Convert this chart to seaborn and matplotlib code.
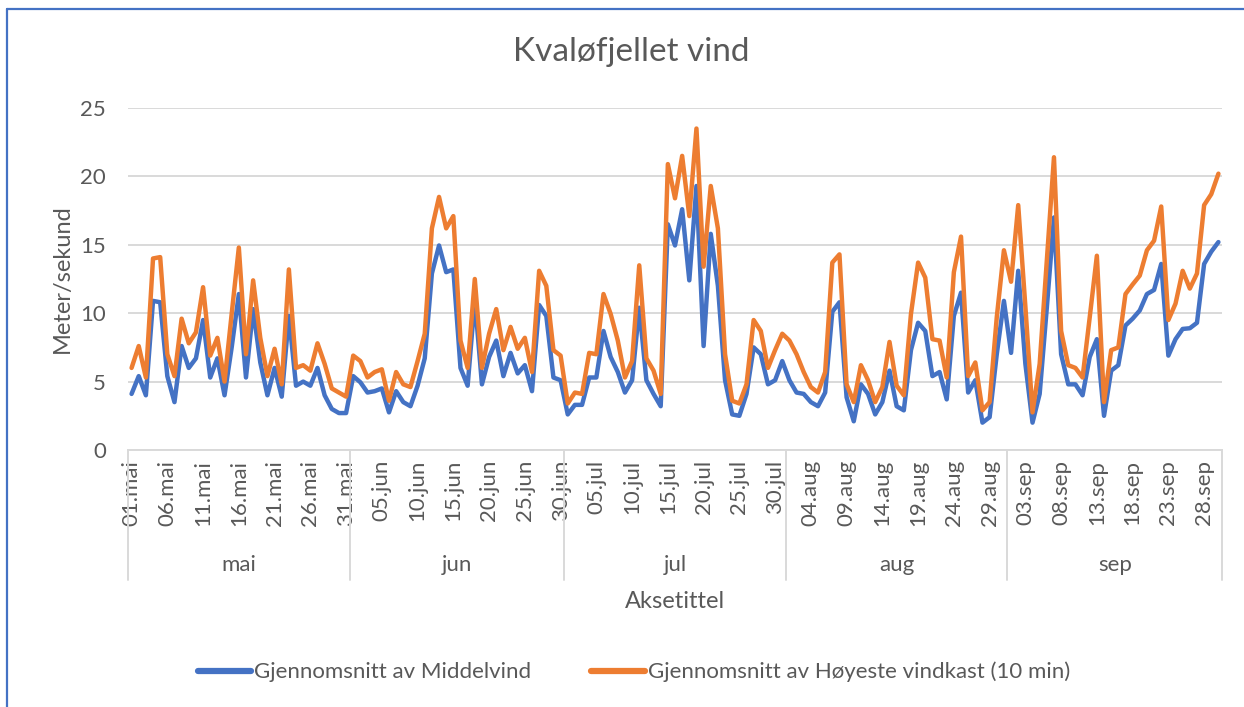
import matplotlib
matplotlib.use("Agg")
import matplotlib.pyplot as plt
import matplotlib.transforms as mtransforms
from matplotlib.lines import Line2D
import pandas as pd
import seaborn as sns

# daily values, 01.mai - 30.sep
MIDDELVIND = [
    4.1, 5.4, 4.0, 10.9, 10.8, 5.4, 3.5, 7.6, 6.0, 6.7,
    9.5, 5.3, 6.7, 4.0, 7.5, 11.4, 5.3, 10.3, 6.4, 4.0,
    6.0, 3.9, 9.8, 4.7, 5.0, 4.7, 6.0, 4.0, 3.0, 2.7,
    2.7, 5.4, 4.95, 4.2, 4.3, 4.5, 2.75, 4.3, 3.5, 3.2,
    4.7, 6.7, 12.9, 14.95, 13.0, 13.2, 6.0, 4.7, 11.0, 4.8,
    6.8, 8.0, 5.4, 7.1, 5.6, 6.2, 4.3, 10.6, 9.8, 5.3,
    5.1, 2.6, 3.3, 3.3, 5.3, 5.3, 8.7, 6.8, 5.7, 4.2,
    5.1, 10.4, 5.1, 4.1, 3.2, 16.5, 14.95, 17.6, 12.4, 19.3,
    7.6, 15.8, 12.0, 5.1, 2.6, 2.5, 4.1, 7.5, 7.0, 4.8,
    5.1, 6.5, 5.1, 4.2, 4.1, 3.5, 3.2, 4.2, 10.1, 10.8,
    3.85, 2.1, 4.8, 4.1, 2.6, 3.5, 5.8, 3.2, 2.9, 7.3,
    9.3, 8.7, 5.4, 5.7, 3.7, 9.8, 11.5, 4.2, 5.1, 2.0,
    2.4, 7.0, 10.9, 7.1, 13.1, 6.3, 2.0, 4.1, 10.4, 17.0,
    7.0, 4.8, 4.8, 4.0, 6.8, 8.1, 2.5, 5.8, 6.2, 9.1,
    9.6, 10.2, 11.4, 11.7, 13.6, 6.9, 8.1, 8.85, 8.9, 9.3,
    13.6, 14.5, 15.2,
]

VINDKAST = [
    6.0, 7.6, 5.3, 14.0, 14.1, 7.0, 5.4, 9.6, 7.8, 8.6,
    11.9, 6.9, 8.2, 5.0, 9.95, 14.8, 7.0, 12.4, 8.2, 5.4,
    7.4, 4.8, 13.2, 6.0, 6.2, 5.8, 7.8, 6.3, 4.5, 4.2,
    3.9, 6.9, 6.5, 5.3, 5.7, 5.9, 3.6, 5.7, 4.8, 4.6,
    6.5, 8.5, 16.2, 18.5, 16.2, 17.1, 8.0, 6.0, 12.5, 6.0,
    8.5, 10.3, 7.3, 9.0, 7.4, 8.2, 5.7, 13.1, 12.0, 7.3,
    6.9, 3.4, 4.2, 4.1, 7.1, 7.0, 11.4, 9.95, 8.0, 5.3,
    6.5, 13.5, 6.7, 5.8, 4.1, 20.9, 18.4, 21.5, 17.1, 23.5,
    13.4, 19.3, 16.2, 7.0, 3.6, 3.4, 4.8, 9.5, 8.7, 6.0,
    7.3, 8.5, 8.0, 7.0, 5.7, 4.6, 4.2, 5.7, 13.7, 14.3,
    4.8, 3.5, 6.2, 5.1, 3.5, 4.6, 7.9, 4.7, 4.0, 9.95,
    13.7, 12.6, 8.1, 8.0, 5.3, 13.0, 15.6, 5.4, 6.4, 2.9,
    3.5, 9.7, 14.6, 12.3, 17.9, 10.5, 2.75, 6.3, 13.9, 21.4,
    8.7, 6.2, 6.0, 5.3, 9.7, 14.2, 3.5, 7.3, 7.5, 11.4,
    12.1, 12.75, 14.6, 15.3, 17.8, 9.5, 10.7, 13.1, 11.8, 12.9,
    17.9, 18.7, 20.2,
]

SERIES_NAMES = ["Gjennomsnitt av Middelvind", "Gjennomsnitt av Høyeste vindkast (10 min)"]

TICK_LABELS = [
    "01.mai", "06.mai", "11.mai", "16.mai", "21.mai", "26.mai", "31.mai",
    "05.jun", "10.jun", "15.jun", "20.jun", "25.jun", "30.jun",
    "05.jul", "10.jul", "15.jul", "20.jul", "25.jul", "30.jul",
    "04.aug", "09.aug", "14.aug", "19.aug", "24.aug", "29.aug",
    "03.sep", "08.sep", "13.sep", "18.sep", "23.sep", "28.sep",
]
TICK_STEP = 5

MONTHS = ["mai", "jun", "jul", "aug", "sep"]
MONTH_DAYS = [31, 30, 31, 31, 30]

BLUE = "#4472C4"
ORANGE = "#ED7D31"
TEXT = "#595959"
GRID = "#D9D9D9"

W, H = 1244, 707

sns.set_theme(style="white")
plt.rcParams["font.family"] = ["Lato", "DejaVu Sans"]

n = len(MIDDELVIND)
df = pd.DataFrame({
    "dag": list(range(n)) * 2,
    "verdi": MIDDELVIND + VINDKAST,
    "serie": [SERIES_NAMES[0]] * n + [SERIES_NAMES[1]] * n,
})

fig = plt.figure(figsize=(W / 100, H / 100), dpi=100)
ax = fig.add_axes([128 / W, 1 - 450 / H, (1222 - 128) / W, (450 - 108) / H])

sns.lineplot(data=df, x="dag", y="verdi", hue="serie", hue_order=SERIES_NAMES,
             palette=[BLUE, ORANGE], linewidth=3.2, legend=False, ax=ax)

ax.set_xlim(-0.5, n - 0.5)
ax.set_ylim(0, 25)
ax.set_yticks(range(0, 26, 5))
ax.yaxis.grid(True, color=GRID, linewidth=1.4)
for side in ["top", "right", "left"]:
    ax.spines[side].set_visible(False)
ax.spines["bottom"].set_color(GRID)
ax.spines["bottom"].set_linewidth(1.4)

ax.set_xticks(range(0, n, TICK_STEP))
ax.set_xticklabels(TICK_LABELS, rotation=90, ha="center", va="top")
ax.tick_params(axis="x", length=0, pad=7, labelsize=16, labelcolor=TEXT)
ax.tick_params(axis="y", length=0, pad=16, labelsize=16, labelcolor=TEXT)
ax.set_xlabel("")
ax.set_ylabel("")

# month level of the category axis
trans = mtransforms.blended_transform_factory(ax.transData, ax.transAxes)
ax_h = 450 - 108
y_sep = -(580 - 450) / ax_h
y_month = -(565 - 450) / ax_h
start = -0.5
ax.plot([start, start], [0, y_sep], color=GRID, lw=1.4, transform=trans, clip_on=False)
for month, days in zip(MONTHS, MONTH_DAYS):
    end = start + days
    ax.plot([end, end], [0, y_sep], color=GRID, lw=1.4, transform=trans, clip_on=False)
    ax.text((start + end) / 2, y_month, month, transform=trans, ha="center", va="center",
            fontsize=16, color=TEXT)
    start = end

fig.text(675 / W, 1 - 601 / H, "Aksetittel", ha="center", va="center", fontsize=17, color=TEXT)
fig.text(62 / W, 1 - 279 / H, "Meter/sekund", ha="center", va="center", rotation=90,
         fontsize=17, color=TEXT)
fig.text(631 / W, 1 - 52 / H, "Kvaløfjellet vind", ha="center", va="center", fontsize=24,
         color=TEXT, fontweight="normal")

handles = [Line2D([], [], color=BLUE, lw=4.5, solid_capstyle="round"),
           Line2D([], [], color=ORANGE, lw=4.5, solid_capstyle="round")]
fig.legend(handles, SERIES_NAMES, loc="center", bbox_to_anchor=(634 / W, 1 - 672 / H),
           ncol=2, frameon=False, fontsize=16, labelcolor=TEXT, handlelength=2.4,
           handletextpad=0.15, columnspacing=2.7)

# chart frame (left and top edge visible)
fig.add_artist(Line2D([7 / W, 7 / W], [0, 1 - 9 / H], color=BLUE, lw=1.6))
fig.add_artist(Line2D([7 / W, 1], [1 - 9 / H, 1 - 9 / H], color=BLUE, lw=1.6))

fig.savefig("out.png", dpi=100)
